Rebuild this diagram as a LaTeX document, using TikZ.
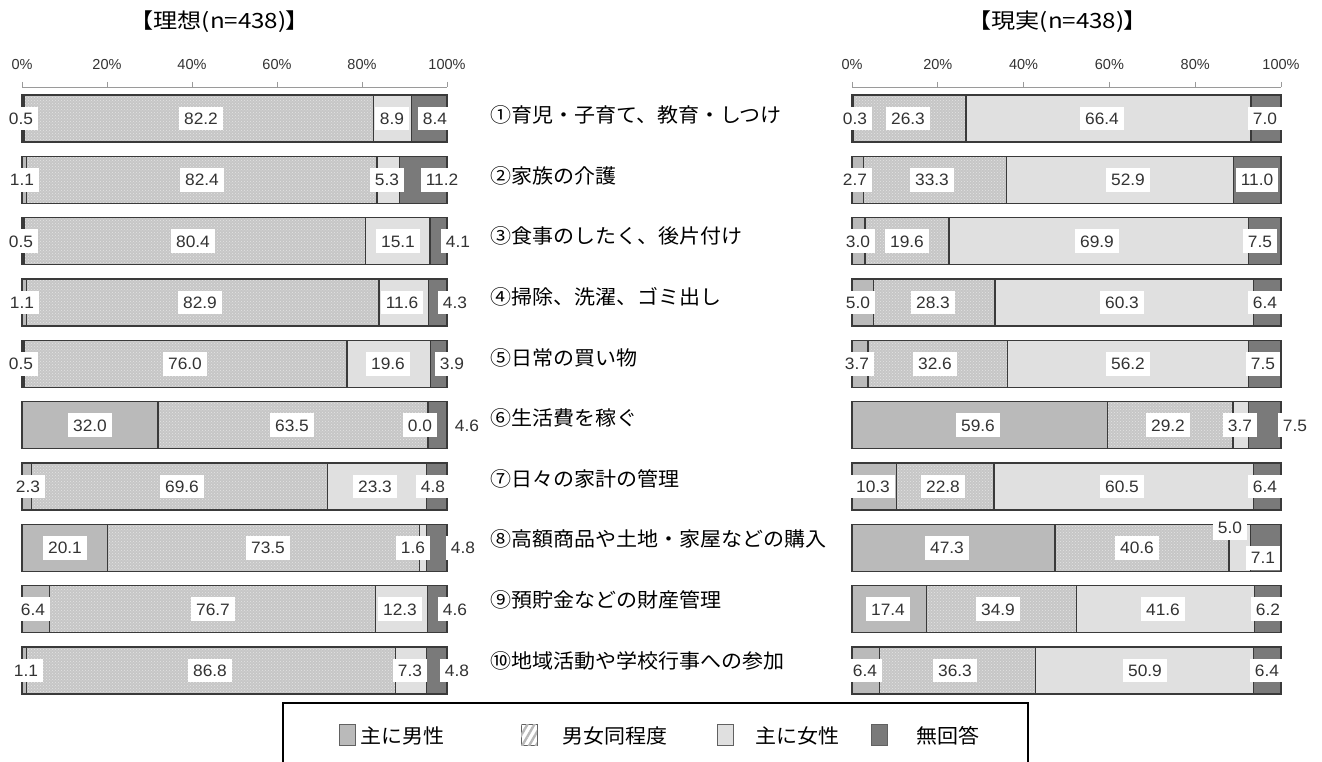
\documentclass[tikz,border=0pt]{standalone}
\usepackage{fontspec}
\setmainfont{Liberation Sans}
\newfontfamily\jp[FakeStretch=1.05]{Noto Sans CJK JP}
\newfontfamily\jpt[FakeStretch=1.15,RawFeature=+palt]{Noto Sans CJK JP}
\newfontfamily\numf[FakeStretch=1.05]{Liberation Sans}
\usetikzlibrary{patterns,patterns.meta}
\definecolor{malecol}{HTML}{BABABA}
\definecolor{bothcol}{HTML}{C6C6C6}
\definecolor{bothdot}{HTML}{E4E4E4}
\definecolor{femcol}{HTML}{E0E0E0}
\definecolor{nacol}{HTML}{7A7A7A}
\definecolor{edge}{HTML}{3A3A3A}
\definecolor{txt}{HTML}{333333}
\definecolor{axisc}{HTML}{9A9A9A}

\newcommand\barrow[7]{%
  \pgfmathsetmacro\bxa{#1+#2*#4}%
  \pgfmathsetmacro\bxb{\bxa+#2*#5}%
  \pgfmathsetmacro\bxe{#1+#2*100}%
  \pgfmathsetmacro\bxc{min(\bxb+#2*#6,\bxe)}%
  \pgfmathsetmacro\byt{#3-23.5}%
  \pgfmathsetmacro\byb{#3+23.5}%
  \fill[malecol] (#1,\byt) rectangle (\bxa,\byb);
  \fill[bothcol] (\bxa,\byt) rectangle (\bxb,\byb);
  \fill[pattern=crosshatch dots,pattern color=bothdot] (\bxa,\byt) rectangle (\bxb,\byb);
  \fill[femcol] (\bxb,\byt) rectangle (\bxc,\byb);
  \fill[nacol] (\bxc,\byt) rectangle (\bxe,\byb);
  \draw[edgeline] (\bxa,\byt) -- (\bxa,\byb) (\bxb,\byt) -- (\bxb,\byb) (\bxc,\byt) -- (\bxc,\byb);
  \draw[edgeline] (#1,\byt) rectangle (\bxe,\byb);
}
\newcommand\vl[4]{\node[val] (#1) at (#2,#3) {#4};}

\begin{document}
\begin{tikzpicture}[x=1pt,y=-1pt,
  edgeline/.style={draw=edge,line width=1.3pt},
  axisline/.style={draw=axisc,line width=0.9pt},
  val/.style={fill=white,text=txt,font=\numf\fontsize{16.5}{16.5}\selectfont,inner xsep=5pt,inner ysep=6pt,text height=11.8pt,text depth=0pt},
  tick/.style={text=txt,font=\fontsize{14.5}{14.5}\selectfont,inner sep=0pt},
  title/.style={font=\jpt\fontsize{21}{21}\selectfont,inner sep=0pt},
  cat/.style={font=\jp\fontsize{20}{20}\selectfont,anchor=west,inner sep=0pt},
  legtxt/.style={font=\jp\fontsize{20}{20}\selectfont,anchor=west,inner sep=0pt},
  legsq/.style={draw=edge!80,line width=0.8pt,minimum width=16pt,minimum height=21pt,inner sep=0pt}]
\fill[white] (0,0) rectangle (1322,762);
\useasboundingbox (0,0) rectangle (1322,762);

% titles
\node[title] (tl) at (220,22) {【理想(n=438)】};
\node[title] (tr) at (1058,22) {【現実(n=438)】};

% axes
\draw[axisline] (22,87) -- (447,87);
\draw[axisline] (852,87) -- (1281,87);
\foreach \p in {0,20,...,100}{
  \node[tick] (lt\p) at ({22+4.25*\p},65) {\p\%};
  \draw[axisline] ({22+4.25*\p},82) -- ({22+4.25*\p},87);
  \node[tick] (rt\p) at ({852+4.29*\p},65) {\p\%};
  \draw[axisline] ({852+4.29*\p},82) -- ({852+4.29*\p},87);
}

% bars (ideal)
\foreach \i/\a/\b/\c/\d in {1/0.5/82.2/8.9/8.4,2/1.1/82.4/5.3/11.2,3/0.5/80.4/15.1/4.1,4/1.1/82.9/11.6/4.3,5/0.5/76.0/19.6/3.9,6/32.0/63.5/0.0/4.6,7/2.3/69.6/23.3/4.8,8/20.1/73.5/1.6/4.8,9/6.4/76.7/12.3/4.6,10/1.1/86.8/7.3/4.8}{
  \pgfmathsetmacro\yc{118.5+(\i-1)*61.33}
  \barrow{22}{4.25}{\yc}{\a}{\b}{\c}{\d}
}
% bars (real)
\foreach \i/\a/\b/\c/\d in {1/0.3/26.3/66.4/7.0,2/2.7/33.3/52.9/11.0,3/3.0/19.6/69.9/7.5,4/5.0/28.3/60.3/6.4,5/3.7/32.6/56.2/7.5,6/59.6/29.2/3.7/7.5,7/10.3/22.8/60.5/6.4,8/47.3/40.6/5.0/7.1,9/17.4/34.9/41.6/6.2,10/6.4/36.3/50.9/6.4}{
  \pgfmathsetmacro\yc{118.5+(\i-1)*61.33}
  \barrow{852}{4.29}{\yc}{\a}{\b}{\c}{\d}
}

% value labels, ideal
\vl{La1}{21}{118.5}{0.5}\vl{Lb1}{201}{118.5}{82.2}\vl{Lc1}{392}{118.5}{8.9}\vl{Ld1}{435}{118.5}{8.4}
\vl{La2}{22}{179.8}{1.1}\vl{Lb2}{202}{179.8}{82.4}\vl{Lc2}{387}{179.8}{5.3}\vl{Ld2}{442}{179.8}{11.2}
\vl{La3}{21}{241.2}{0.5}\vl{Lb3}{193}{241.2}{80.4}\vl{Lc3}{398}{241.2}{15.1}\vl{Ld3}{458}{241.2}{4.1}
\vl{La4}{22}{302.5}{1.1}\vl{Lb4}{200}{302.5}{82.9}\vl{Lc4}{402}{302.5}{11.6}\vl{Ld4}{455}{302.5}{4.3}
\vl{La5}{21}{363.8}{0.5}\vl{Lb5}{185}{363.8}{76.0}\vl{Lc5}{388}{363.8}{19.6}\vl{Ld5}{452}{363.8}{3.9}
\vl{La6}{90}{425.2}{32.0}\vl{Lb6}{292}{425.2}{63.5}\vl{Lc6}{420}{425.2}{0.0}\vl{Ld6}{467}{425.2}{4.6}
\vl{La7}{28}{486.5}{2.3}\vl{Lb7}{182}{486.5}{69.6}\vl{Lc7}{375}{486.5}{23.3}\vl{Ld7}{433}{486.5}{4.8}
\vl{La8}{65}{547.8}{20.1}\vl{Lb8}{268}{547.8}{73.5}\vl{Lc8}{413}{547.8}{1.6}\vl{Ld8}{463}{547.8}{4.8}
\vl{La9}{33}{609.2}{6.4}\vl{Lb9}{213}{609.2}{76.7}\vl{Lc9}{400}{609.2}{12.3}\vl{Ld9}{455}{609.2}{4.6}
\vl{La10}{26}{670.5}{1.1}\vl{Lb10}{210}{670.5}{86.8}\vl{Lc10}{410}{670.5}{7.3}\vl{Ld10}{457}{670.5}{4.8}

% value labels, real
\vl{Ra1}{855}{118.5}{0.3}\vl{Rb1}{908}{118.5}{26.3}\vl{Rc1}{1102}{118.5}{66.4}\vl{Rd1}{1265}{118.5}{7.0}
\vl{Ra2}{855}{179.8}{2.7}\vl{Rb2}{932}{179.8}{33.3}\vl{Rc2}{1128}{179.8}{52.9}\vl{Rd2}{1257}{179.8}{11.0}
\vl{Ra3}{858}{241.2}{3.0}\vl{Rb3}{907}{241.2}{19.6}\vl{Rc3}{1097}{241.2}{69.9}\vl{Rd3}{1260}{241.2}{7.5}
\vl{Ra4}{858}{302.5}{5.0}\vl{Rb4}{933}{302.5}{28.3}\vl{Rc4}{1122}{302.5}{60.3}\vl{Rd4}{1265}{302.5}{6.4}
\vl{Ra5}{857}{363.8}{3.7}\vl{Rb5}{935}{363.8}{32.6}\vl{Rc5}{1128}{363.8}{56.2}\vl{Rd5}{1263}{363.8}{7.5}
\vl{Ra6}{978}{425.2}{59.6}\vl{Rb6}{1168}{425.2}{29.2}\vl{Rc6}{1240}{425.2}{3.7}\vl{Rd6}{1295}{425.2}{7.5}
\vl{Ra7}{873}{486.5}{10.3}\vl{Rb7}{943}{486.5}{22.8}\vl{Rc7}{1122}{486.5}{60.5}\vl{Rd7}{1265}{486.5}{6.4}
\vl{Ra8}{947}{547.8}{47.3}\vl{Rb8}{1137}{547.8}{40.6}\vl{Rc8}{1230}{528}{5.0}\vl{Rd8}{1263}{558}{7.1}
\vl{Ra9}{888}{609.2}{17.4}\vl{Rb9}{998}{609.2}{34.9}\vl{Rc9}{1163}{609.2}{41.6}\vl{Rd9}{1268}{609.2}{6.2}
\vl{Ra10}{865}{670.5}{6.4}\vl{Rb10}{955}{670.5}{36.3}\vl{Rc10}{1145}{670.5}{50.9}\vl{Rd10}{1267}{670.5}{6.4}

% category labels
\node[cat] (c1) at (490,115) {①育児・子育て、教育・しつけ};
\node[cat] (c2) at (490,175.6) {②家族の介護};
\node[cat] (c3) at (490,236.2) {③食事のしたく、後片付け};
\node[cat] (c4) at (490,296.8) {④掃除、洗濯、ゴミ出し};
\node[cat] (c5) at (490,357.4) {⑤日常の買い物};
\node[cat] (c6) at (490,418) {⑥生活費を稼ぐ};
\node[cat] (c7) at (490,478.6) {⑦日々の家計の管理};
\node[cat] (c8) at (490,539.2) {⑧高額商品や土地・家屋などの購入};
\node[cat] (c9) at (490,599.8) {⑨預貯金などの財産管理};
\node[cat] (c10) at (490,660.4) {⑩地域活動や学校行事への参加};

% legend
\draw[black,line width=1.1pt] (283,763) -- (283,703) -- (1028,703) -- (1028,763);
\node[legsq,fill=malecol] (k1) at (347,735) {};
\node[legtxt] (t1) at (360,736) {主に男性};
\node[legsq,fill=white,postaction={pattern={Lines[angle=60,distance=6pt,line width=2.4pt]},pattern color=bothcol!80!gray}] (k2) at (529,735) {};
\node[legtxt] (t2) at (562,736) {男女同程度};
\node[legsq,fill=femcol] (k3) at (725,735) {};
\node[legtxt] (t3) at (755,736) {主に女性};
\node[legsq,fill=nacol] (k4) at (879,735) {};
\node[legtxt] (t4) at (916,736) {無回答};
\end{tikzpicture}
\end{document}
